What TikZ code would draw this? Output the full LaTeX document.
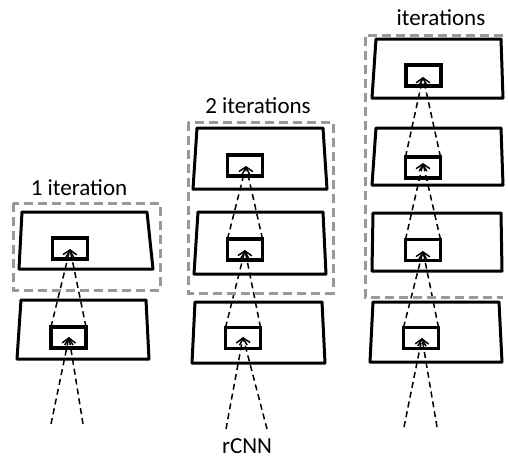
\documentclass[tikz,border=0pt]{standalone}
\usepackage{fontspec}
\setmainfont{Carlito}
\usetikzlibrary{arrows.meta}

\begin{document}
\begin{tikzpicture}[x=1pt, y=-1pt,
  >={Straight Barb[length=6pt,width=11pt]},
  layer/.style={line width=3pt, line join=round},
  cell/.style={draw, line width=3.5pt, minimum width=35pt, minimum height=21pt, inner sep=0pt, outer sep=0pt},
  feed/.style={->, dash pattern=on 6pt off 4pt, line width=1.5pt},
  group/.style={draw=black!40, line width=3pt, dash pattern=on 9pt off 5pt},
  lbl/.style={anchor=base, inner sep=0pt, font=\fontsize{23}{26}\selectfont}]
\useasboundingbox (0,0) rectangle (508,459);

% 1 iteration
\draw [layer] (21,300) -- (146,300) -- (149,359) -- (17,359) -- cycle;
\draw [layer] (22,212) -- (147,212) -- (153,269) -- (19,269) -- cycle;
\node [cell] (c1a) at (68.5,337.5) {};
\node [cell] (c1b) at (70,248.5) {};
\coordinate (t1a) at (69,337);
\coordinate (t1b) at (70,249);
\coordinate (i1l) at (51,424);
\coordinate (i1r) at (83,424);
\draw [feed] (i1l) -- (t1a);
\draw [feed] (i1r) -- (t1a);
\draw [feed] (c1a.north west) -- (t1b);
\draw [feed] (c1a.north east) -- (t1b);
\draw [group] (13,203) rectangle (160,290);
\node [lbl] (lab1) at (79,195) {1 iteration};

% 2 iterations
\draw [layer] (195,302) -- (322,302) -- (325,363) -- (192,363) -- cycle;
\draw [layer] (198,212) -- (323,212) -- (326,274) -- (194,274) -- cycle;
\draw [layer] (197,128) -- (323,128) -- (327,189) -- (193,189) -- cycle;
\node [cell] (c2a) at (243,338) {};
\node [cell] (c2b) at (245,249.5) {};
\node [cell] (c2c) at (245,165.5) {};
\coordinate (t2a) at (243,337);
\coordinate (t2b) at (245,250);
\coordinate (t2c) at (246,166);
\coordinate (i2l) at (226,429);
\coordinate (i2r) at (267,429);
\draw [feed] (i2l) -- (t2a);
\draw [feed] (i2r) -- (t2a);
\draw [feed] (c2a.north west) -- (t2b);
\draw [feed] (c2a.north east) -- (t2b);
\draw [feed] (c2b.north west) -- (t2c);
\draw [feed] (c2b.north east) -- (t2c);
\draw [group] (188,122) rectangle (333,293);
\node [lbl] (lab2) at (258,113) {2 iterations};
\node [lbl] (rcnn) at (247,453) {rCNN};

% iterations
\draw [layer] (373,302) -- (499,302) -- (502,362) -- (370,362) -- cycle;
\draw [layer] (373,213) -- (501,213) -- (502,271) -- (372,271) -- cycle;
\draw [layer] (376,128) -- (501,128) -- (503,185) -- (372,185) -- cycle;
\draw [layer] (376,39) -- (501,39) -- (503,98) -- (372,98) -- cycle;
\node [cell] (c3a) at (421,338) {};
\node [cell] (c3b) at (423,250) {};
\node [cell] (c3c) at (423,167.5) {};
\node [cell] (c3d) at (423.5,75.5) {};
\coordinate (t3a) at (422,338);
\coordinate (t3b) at (423,251);
\coordinate (t3c) at (423,163);
\coordinate (t3d) at (423,77);
\coordinate (i3l) at (404,427);
\coordinate (i3r) at (437,427);
\draw [feed] (i3l) -- (t3a);
\draw [feed] (i3r) -- (t3a);
\draw [feed] (c3a.north west) -- (t3b);
\draw [feed] (c3a.north east) -- (t3b);
\draw [feed] (c3b.north west) -- (t3c);
\draw [feed] (c3b.north east) -- (t3c);
\draw [feed] (c3c.north west) -- (t3d);
\draw [feed] (c3c.north east) -- (t3d);
\draw [group] (503,35) -- (365,35) -- (365,297) -- (503,297);
\node [lbl] (lab3) at (441,25) {iterations};
\end{tikzpicture}
\end{document}
